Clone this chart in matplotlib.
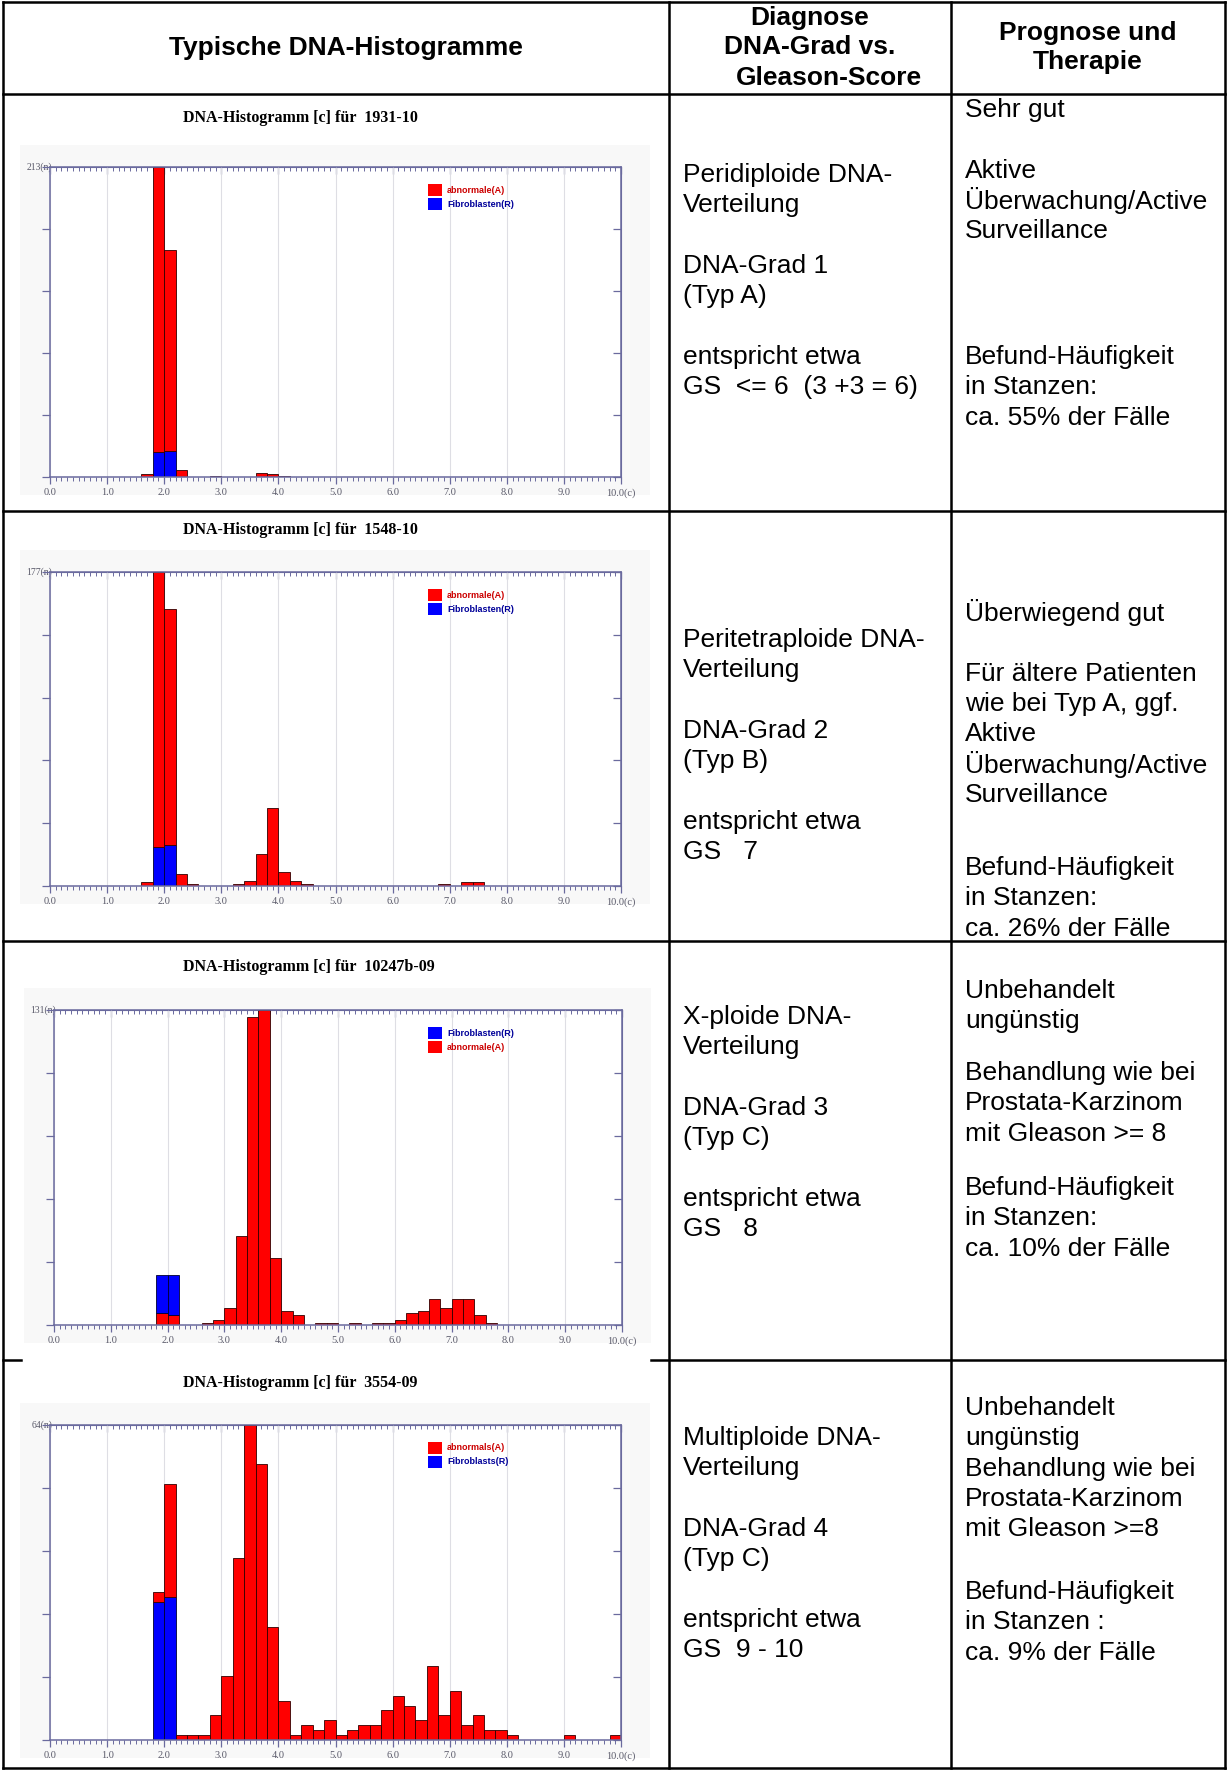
import numpy as np
import matplotlib.pyplot as plt
from matplotlib.patches import Rectangle
from matplotlib.ticker import MultipleLocator

W, H = 1228, 1771

# DNA histograms: left edge of each 0.2c bin and its cell count
h1_red_x = [1.6, 1.8, 2.0, 2.2, 2.8, 3.6, 3.8, 4.0]
h1_red_n = [2, 196, 138, 5, 1, 3, 2, 1]
h1_blue_x = [1.8, 2.0]
h1_blue_n = [17, 18]

h2_red_x = [1.6, 1.8, 2.0, 2.2, 2.4, 3.2, 3.4, 3.6, 3.8, 4.0, 4.2, 4.4, 6.8, 7.2, 7.4]
h2_red_n = [2, 155, 133, 7, 1, 1, 3, 18, 44, 8, 3, 1, 1, 2, 2]
h2_blue_x = [1.8, 2.0]
h2_blue_n = [22, 23]

h3_red_x = [1.8, 2.0, 2.6, 2.8, 3.0, 3.2, 3.4, 3.6, 3.8, 4.0, 4.2, 4.6, 4.8,
            5.2, 5.6, 5.8, 6.0, 6.2, 6.4, 6.6, 6.8, 7.0, 7.2, 7.4, 7.6]
h3_red_n = [5, 4, 1, 2, 7, 37, 128, 131, 28, 6, 4, 1, 1,
            1, 1, 1, 2, 5, 6, 11, 7, 11, 11, 4, 1]
h3_blue_x = [1.8, 2.0]
h3_blue_n = [16, 17]

h4_red_x = [1.8, 2.0, 2.2, 2.4, 2.6, 2.8, 3.0, 3.2, 3.4, 3.6, 3.8, 4.0, 4.2, 4.4, 4.6, 4.8, 5.0,
            5.2, 5.4, 5.6, 5.8, 6.0, 6.2, 6.4, 6.6, 6.8, 7.0, 7.2, 7.4, 7.6, 7.8, 8.0, 9.0, 9.8]
h4_red_n = [2, 23, 1, 1, 1, 5, 13, 37, 64, 56, 23, 8, 1, 3, 2, 4, 1,
            2, 3, 3, 6, 9, 7, 4, 15, 5, 10, 3, 5, 2, 2, 1, 1, 1]
h4_blue_x = [1.8, 2.0]
h4_blue_n = [28, 29]

y_max = [213, 177, 131, 64]
case_ids = ["1931-10", "1548-10", "10247b-09", "3554-09"]
blue_on_top = [False, False, True, False]
legends = [
    [("abnormale(A)", "red"), ("Fibroblasten(R)", "blue")],
    [("abnormale(A)", "red"), ("Fibroblasten(R)", "blue")],
    [("Fibroblasten(R)", "blue"), ("abnormale(A)", "red")],
    [("abnormals(A)", "red"), ("Fibroblasts(R)", "blue")],
]
x_labels = ["0.0", "1.0", "2.0", "3.0", "4.0", "5.0", "6.0", "7.0", "8.0", "9.0", "10.0(c)"]

header_col1 = "Typische DNA-Histogramme"
header_col2 = ["Diagnose", "DNA-Grad vs.", "Gleason-Score"]
header_col3 = ["Prognose und", "Therapie"]

diag_text = [
    ["Peridiploide DNA-", "Verteilung", "", "DNA-Grad 1", "(Typ A)", "",
     "entspricht etwa", "GS  <= 6  (3 +3 = 6)"],
    ["Peritetraploide DNA-", "Verteilung", "", "DNA-Grad 2", "(Typ B)", "",
     "entspricht etwa", "GS   7"],
    ["X-ploide DNA-", "Verteilung", "", "DNA-Grad 3", "(Typ C)", "",
     "entspricht etwa", "GS   8"],
    ["Multiploide DNA-", "Verteilung", "", "DNA-Grad 4", "(Typ C)", "",
     "entspricht etwa", "GS  9 - 10"],
]
prog_text = [
    [(110, ["Sehr gut", "", "Aktive", "Überwachung/Active", "Surveillance"]),
     (357, ["Befund-Häufigkeit", "in Stanzen:", "ca. 55% der Fälle"])],
    [(613, ["Überwiegend gut", "", "Für ältere Patienten", "wie bei Typ A, ggf.", "Aktive",
            "Überwachung/Active", "Surveillance"]),
     (868, ["Befund-Häufigkeit", "in Stanzen:", "ca. 26% der Fälle"])],
    [(991, ["Unbehandelt", "ungünstig"]),
     (1073, ["Behandlung wie bei", "Prostata-Karzinom", "mit Gleason >= 8"]),
     (1188, ["Befund-Häufigkeit", "in Stanzen:", "ca. 10% der Fälle"])],
    [(1408, ["Unbehandelt", "ungünstig", "Behandlung wie bei", "Prostata-Karzinom",
             "mit Gleason >=8"]),
     (1592, ["Befund-Häufigkeit", "in Stanzen :", "ca. 9% der Fälle"])],
]
diag_start = [175, 640, 1017, 1438]

# layout in pixels
hist_box = [(50, 167, 621, 477), (50, 572, 621, 886), (54, 1010, 622, 1325), (50, 1425, 621, 1740)]
title_y = [118, 530, 967, 1383]
col1, col2 = 669, 951
row_y = [94, 511, 941, 1360]
STEP = 30.3
AXC = "#6a6a9e"
TICKC = "#5a5a6a"
RED, BLUE = "#ff0000", "#0000ff"
SANS = ["Liberation Sans", "DejaVu Sans"]
SERIF = ["Liberation Serif", "DejaVu Serif"]

fig = plt.figure(figsize=(W / 100, H / 100), dpi=100)
fig.patch.set_facecolor("white")

under = fig.add_axes([0, 0, 1, 1])
under.set_xlim(0, W)
under.set_ylim(H, 0)
under.axis("off")

# table frame
lw = 1.8
under.plot([3, 3], [2, 1768], color="black", lw=lw)
under.plot([1225, 1225], [2, 1768], color="black", lw=lw)
under.plot([3, 1225], [2, 2], color="black", lw=lw)
under.plot([3, 1225], [1768, 1768], color="black", lw=lw)
for x in (col1, col2):
    under.plot([x, x], [2, 1768], color="black", lw=lw)
for y in row_y[:3]:
    under.plot([3, 1225], [y, y], color="black", lw=lw)
under.plot([3, 21], [row_y[3], row_y[3]], color="black", lw=lw)
under.plot([651, 1225], [row_y[3], row_y[3]], color="black", lw=lw)

# very light grey picture background behind each histogram
for (l, t, r, b) in hist_box:
    under.add_patch(Rectangle((l - 30, t - 22), r - l + 59, b - t + 40, color="#f8f8f8", lw=0))

hists = [
    (h1_red_x, h1_red_n, h1_blue_x, h1_blue_n),
    (h2_red_x, h2_red_n, h2_blue_x, h2_blue_n),
    (h3_red_x, h3_red_n, h3_blue_x, h3_blue_n),
    (h4_red_x, h4_red_n, h4_blue_x, h4_blue_n),
]

for i, (rx, rn, bx, bn) in enumerate(hists):
    l, t, r, b = hist_box[i]
    ax = fig.add_axes([l / W, 1 - b / H, (r - l) / W, (b - t) / H])
    ax.set_facecolor("white")
    ax.set_xlim(0, 10)
    ax.set_ylim(0, y_max[i])
    red_d = dict(zip(rx, rn))
    blue_d = dict(zip(bx, bn))
    if blue_on_top[i]:
        ax.bar(rx, rn, width=0.2, align="edge", color=RED, edgecolor="#300000", lw=0.6, zorder=2)
        ax.bar(bx, bn, width=0.2, align="edge", bottom=[red_d.get(x, 0) for x in bx],
               color=BLUE, edgecolor="#000030", lw=0.6, zorder=2)
    else:
        ax.bar(bx, bn, width=0.2, align="edge", color=BLUE, edgecolor="#000030", lw=0.6, zorder=2)
        ax.bar(rx, rn, width=0.2, align="edge", bottom=[blue_d.get(x, 0) for x in rx],
               color=RED, edgecolor="#300000", lw=0.6, zorder=2)

    ax.grid(axis="x", which="major", color="#dedee4", lw=0.8, zorder=0)
    for s in ax.spines.values():
        s.set_color(AXC)
        s.set_linewidth(1.1)
    ax.set_xticks(range(11), x_labels, family=SERIF)
    ax.xaxis.set_minor_locator(MultipleLocator(0.1))
    ax.tick_params(axis="x", which="major", direction="out", length=5, width=0.9, color=AXC,
                   labelsize=7.5, labelcolor=TICKC, pad=3)
    ax.tick_params(axis="x", which="minor", direction="out", length=3, width=0.7, color=AXC)
    ax.set_yticks(np.linspace(0, y_max[i], 6), [""] * 6)
    ax.tick_params(axis="y", direction="out", length=6, width=0.9, color=AXC)

    top = ax.secondary_xaxis("top")
    top.set_xticks(range(11), [""] * 11)
    top.xaxis.set_minor_locator(MultipleLocator(0.1))
    top.tick_params(axis="x", which="major", direction="in", length=5, width=0.9, color=AXC)
    top.tick_params(axis="x", which="minor", direction="in", length=3, width=0.7, color=AXC)
    top.spines["top"].set_color(AXC)

    right = ax.secondary_yaxis("right")
    right.set_yticks(np.linspace(0, y_max[i], 6), [""] * 6)
    right.tick_params(axis="y", direction="in", length=6, width=0.9, color=AXC)
    right.spines["right"].set_color(AXC)

    ax.text(0.004, 1, f"{y_max[i]}(n)", transform=ax.transAxes, ha="right", va="center",
            fontsize=7, color=TICKC, family=SERIF, zorder=1)

    fig.text(183 / W, 1 - title_y[i] / H, f"DNA-Histogramm [c] für  {case_ids[i]}",
             ha="left", va="center", fontsize=11.5, fontweight="bold", family=SERIF)

over = fig.add_axes([0, 0, 1, 1])
over.set_xlim(0, W)
over.set_ylim(H, 0)
over.axis("off")

# hand-made legends inside the histograms
for i, entries in enumerate(legends):
    l, t, r, b = hist_box[i]
    for k, (label, c) in enumerate(entries):
        yc = t + 23 + k * 14
        over.add_patch(Rectangle((428, yc - 6), 14, 12, color=RED if c == "red" else BLUE, lw=0))
        over.text(447, yc, label, ha="left", va="center", fontsize=6.5, fontweight="bold",
                  color="#cc0000" if c == "red" else "#000099", family=SANS)

# header row
over.text(346, 48, header_col1, ha="center", va="center", fontsize=19, fontweight="bold", family=SANS)
for k, (s, y) in enumerate(zip(header_col2, [18, 47, 78])):
    over.text(810 if k < 2 else 829, y, s, ha="center", va="center", fontsize=19,
              fontweight="bold", family=SANS)
for s, y in zip(header_col3, [33, 62]):
    over.text(1088, y, s, ha="center", va="center", fontsize=19, fontweight="bold", family=SANS)

# body text
for i in range(4):
    for k, s in enumerate(diag_text[i]):
        if s:
            over.text(683, diag_start[i] + k * STEP, s, ha="left", va="center", fontsize=19, family=SANS)
    for y0, lines in prog_text[i]:
        for k, s in enumerate(lines):
            if s:
                over.text(965, y0 + k * STEP, s, ha="left", va="center", fontsize=19, family=SANS)

fig.savefig("out.png", dpi=100)
